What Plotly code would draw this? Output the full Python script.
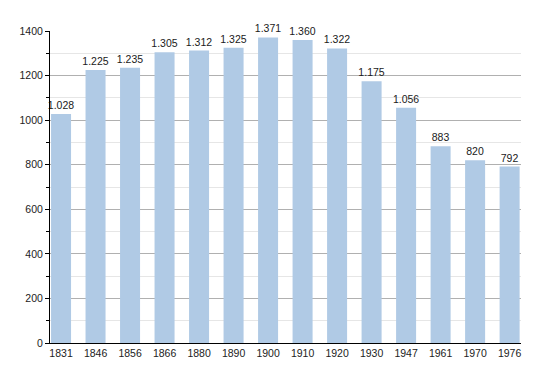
import plotly.graph_objects as go

years = ["1831", "1846", "1856", "1866", "1880", "1890", "1900", "1910", "1920", "1930", "1947", "1961", "1970", "1976"]
population = [1028, 1225, 1235, 1305, 1312, 1325, 1371, 1360, 1322, 1175, 1056, 883, 820, 792]

fig = go.Figure()
fig.add_trace(go.Bar(
    x=years, y=population,
    marker=dict(color="#b0cae5", line=dict(width=0)),
    width=0.58,
    texttemplate="%{y:,}",
    textposition="outside",
    constraintext="none",
    textfont=dict(size=10.5, color="#1a1a1a", family="Liberation Sans, Arial"),
    cliponaxis=False,
))
fig.update_layout(
    width=550, height=373,
    margin=dict(l=42, r=37, t=23, b=38, autoexpand=False),
    paper_bgcolor="white", plot_bgcolor="white",
    separators=",.",
    showlegend=False,
    font=dict(family="Liberation Sans, Arial", size=11, color="#222"),
)
fig.update_xaxes(
    type="category", range=[-0.32, 13.33], automargin=False,
    showline=True, linecolor="black", linewidth=1,
    showgrid=False, ticks="", tickfont=dict(size=10.5),
)
fig.update_yaxes(
    range=[0, 1400], dtick=200, tickformat="d", automargin=False,
    showline=True, linecolor="black", linewidth=1,
    showgrid=True, gridcolor="#b0b0b0", gridwidth=1,
    ticks="outside", ticklen=4, tickcolor="black",
    minor=dict(dtick=100, showgrid=True, gridcolor="#e6e6e6", ticks="outside", ticklen=3, tickcolor="black"),
    zeroline=False, tickfont=dict(size=10.5),
)
fig.write_html("out.html")
